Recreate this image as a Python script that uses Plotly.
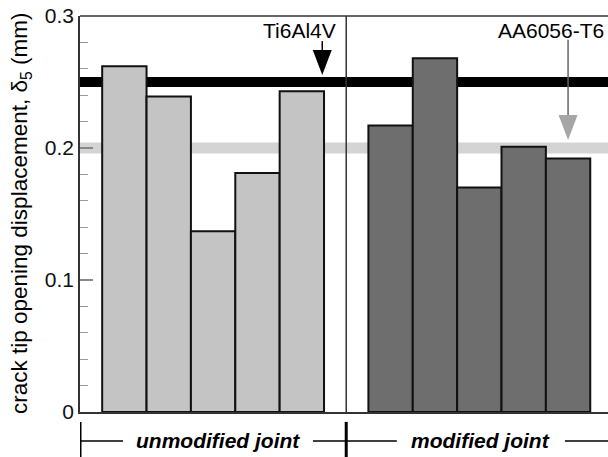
import plotly.graph_objects as go

# CTOD values (mm) for each specimen, per joint type
unmodified_joint = [0.262, 0.239, 0.137, 0.181, 0.243]
modified_joint = [0.217, 0.268, 0.170, 0.201, 0.192]

# base-material reference levels (mm)
ti6al4v_level = 0.25
aa6056_level = 0.20

group_labels = ["unmodified joint", "modified joint"]
ref_labels = ["Ti6Al4V", "AA6056-T6"]
y_tickvals = [0, 0.1, 0.2, 0.3]
y_ticktext = ["0", "0.1", "0.2", "0.3"]

x_unmod = [1, 2, 3, 4, 5]
x_mod = [7, 8, 9, 10, 11]
x_sep = 6
x_max = 11.9

FONT = "Liberation Sans, Arial, sans-serif"

fig = go.Figure()
fig.add_trace(go.Bar(x=x_unmod, y=unmodified_joint, width=1,
                     marker=dict(color="#c4c4c4", line=dict(color="#111", width=2))))
fig.add_trace(go.Bar(x=x_mod, y=modified_joint, width=1,
                     marker=dict(color="#6e6e6e", line=dict(color="#111", width=2))))

shapes = []
# reference levels, under the bars
shapes.append(dict(type="line", xref="x", yref="y", x0=0, x1=x_max,
                   y0=aa6056_level, y1=aa6056_level, layer="below",
                   line=dict(color="#d4d4d4", width=11)))
shapes.append(dict(type="line", xref="x", yref="y", x0=0, x1=x_max,
                   y0=ti6al4v_level, y1=ti6al4v_level, layer="below",
                   line=dict(color="#000", width=10)))
# divider between the two joint groups
shapes.append(dict(type="line", xref="x", yref="y", x0=x_sep, x1=x_sep,
                   y0=0, y1=0.3, line=dict(color="#333", width=1.5)))
# top frame line
shapes.append(dict(type="line", xref="paper", yref="paper", x0=0, x1=1,
                   y0=1, y1=1, line=dict(color="#333", width=1.5)))

# arrows pointing at the reference levels
hw = 0.214   # half width of the arrow head (x units)
hh = 0.019   # height of the arrow head (y units)
ti_x, ti_tip = 5.46, ti6al4v_level + 0.0053
aa_x, aa_tip = 11.0, aa6056_level + 0.006
shapes.append(dict(type="line", xref="x", yref="y", x0=ti_x, x1=ti_x,
                   y0=0.281, y1=ti_tip + hh, line=dict(color="#000", width=1.5)))
shapes.append(dict(type="path", xref="x", yref="y",
                   path=f"M {ti_x-hw},{ti_tip+hh} L {ti_x+hw},{ti_tip+hh} L {ti_x},{ti_tip} Z",
                   fillcolor="#000", line=dict(width=0)))
shapes.append(dict(type="line", xref="x", yref="y", x0=aa_x, x1=aa_x,
                   y0=0.282, y1=aa_tip + hh, line=dict(color="#666", width=1.5)))
shapes.append(dict(type="path", xref="x", yref="y",
                   path=f"M {aa_x-hw},{aa_tip+hh} L {aa_x+hw},{aa_tip+hh} L {aa_x},{aa_tip} Z",
                   fillcolor="#a6a6a6", line=dict(width=0)))

# group brackets below the axis
yb = -0.073
for xv in (0, x_sep):
    shapes.append(dict(type="line", xref="x", yref="paper", x0=xv, x1=xv,
                       y0=-0.025, y1=-0.12, line=dict(color="#000", width=3)))
for a, b in [(0, 0.97), (5.25, 7.14), (10.93, x_max)]:
    shapes.append(dict(type="line", xref="x", yref="paper", x0=a, x1=b,
                       y0=yb, y1=yb, line=dict(color="#000", width=1.5)))

annotations = [
    dict(x=3.11, y=yb, xref="x", yref="paper", text=f"<b><i>{group_labels[0]}</i></b>",
         showarrow=False, xanchor="center", yanchor="middle",
         font=dict(family=FONT, size=21, color="#000")),
    dict(x=9.03, y=yb, xref="x", yref="paper", text=f"<b><i>{group_labels[1]}</i></b>",
         showarrow=False, xanchor="center", yanchor="middle",
         font=dict(family=FONT, size=21, color="#000")),
    dict(x=5.82, y=0.289, xref="x", yref="y", text=ref_labels[0],
         showarrow=False, xanchor="right", yanchor="middle",
         font=dict(family=FONT, size=21, color="#000")),
    dict(x=10.62, y=0.289, xref="x", yref="y", text=ref_labels[1],
         showarrow=False, xanchor="center", yanchor="middle",
         font=dict(family=FONT, size=21, color="#000")),
    dict(x=0, y=0.5, xref="paper", yref="paper", xshift=-59,
         text="crack tip opening displacement, δ<sub>5</sub> (mm)", textangle=-90,
         showarrow=False, xanchor="center", yanchor="middle",
         font=dict(family=FONT, size=22.5, color="#000")),
]

fig.update_layout(
    width=608, height=457,
    margin=dict(l=80, r=0, t=16, b=45),
    paper_bgcolor="white", plot_bgcolor="white",
    showlegend=False, barmode="overlay",
    shapes=shapes, annotations=annotations,
    font=dict(family=FONT, size=21, color="#000"),
    xaxis=dict(range=[0, x_max], showticklabels=False, ticks="", showgrid=False,
               zeroline=False, showline=True, linecolor="#333", linewidth=1.5),
    yaxis=dict(range=[0, 0.3], tickvals=y_tickvals, ticktext=y_ticktext,
               ticksuffix="\u00a0",
               ticks="inside", ticklen=13, tickwidth=1.5, tickcolor="#888",
               showgrid=False, zeroline=False, showline=True, linecolor="#333",
               linewidth=1.5, tickfont=dict(family=FONT, size=21, color="#111"),
               minor=dict(dtick=0.02, ticks="inside", ticklen=8, tickwidth=1,
                          tickcolor="#999", showgrid=False)),
)

fig.write_html("out.html")
